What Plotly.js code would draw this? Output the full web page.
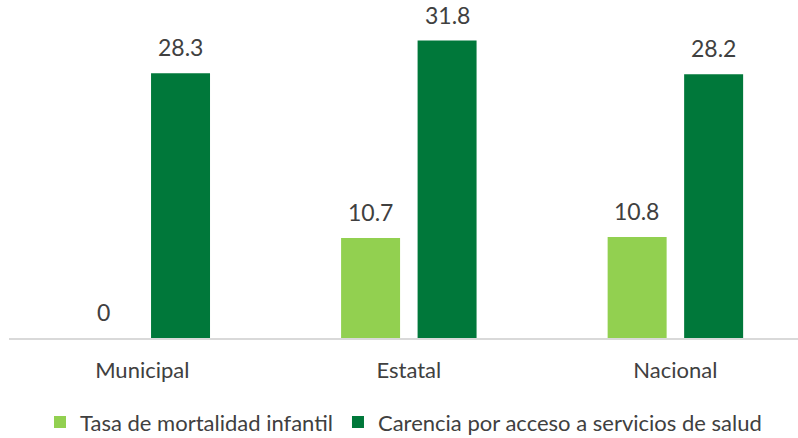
<!DOCTYPE html>
<html><head><meta charset="utf-8">
<script src="https://cdn.plot.ly/plotly-3.0.1.min.js"></script>
<style>html,body{margin:0;padding:0;background:#fff;}#chart{width:798px;height:438px;}</style>
</head><body><div id="chart"></div>
<script>
const categories = ["Municipal", "Estatal", "Nacional"];
const seriesNames = ["Tasa de mortalidad infantil", "Carencia por acceso a servicios de salud"];
const mortalidad = [0, 10.7, 10.8];
const carencia = [28.3, 31.8, 28.2];

const colors = ["#92D050", "#00783A"];
const font = "Lato, 'Open Sans', sans-serif";
const textColor = "#404040";

const traces = [mortalidad, carencia].map((vals, i) => ({
  type: "bar",
  name: seriesNames[i],
  x: categories,
  y: vals,
  marker: {color: colors[i]},
  hoverinfo: "none"
}));

const annotations = [];
[mortalidad, carencia].forEach((vals, i) => {
  vals.forEach((v, j) => {
    annotations.push({
      x: categories[j], y: v, xref: "x", yref: "y",
      text: String(v), showarrow: false,
      xshift: i === 0 ? -38.5 : 38.5, yshift: 26,
      yanchor: "middle",
      font: {family: font, size: 23, color: textColor}
    });
  });
});

const layout = {
  width: 798, height: 438,
  margin: {l: 9, r: 0, t: 0, b: 100, autoexpand: false},
  paper_bgcolor: "#fff", plot_bgcolor: "#fff",
  barmode: "group", bargap: 0.426, bargroupgap: 0.229,
  showlegend: true,
  legend: {orientation: "h", x: 0.5, xanchor: "center", y: -0.249, yanchor: "middle",
           font: {family: font, size: 22, color: textColor}, itemwidth: 14, tracegroupgap: 0},
  xaxis: {type: "category", range: [-0.5, 2.46], showline: true, linecolor: "#D9D9D9", linewidth: 1.5,
          ticks: "", showgrid: false, zeroline: false, fixedrange: true, ticklabelstandoff: 12,
          automargin: false,
          tickfont: {family: font, size: 22, color: textColor}},
  yaxis: {range: [0, 36.13], visible: false, showgrid: false, zeroline: false, fixedrange: true, automargin: false},
  annotations: annotations,
  font: {family: font}
};

Plotly.newPlot("chart", traces, layout, {displayModeBar: false, staticPlot: true});
</script>
</body></html>
